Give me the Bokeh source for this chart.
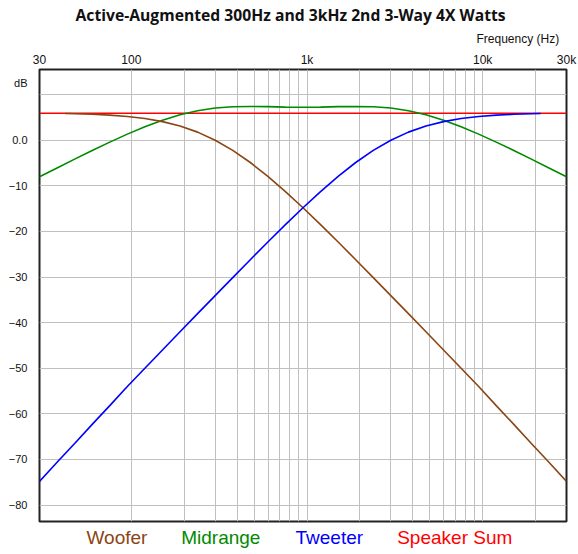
from bokeh.plotting import figure
from bokeh.models import FixedTicker, Label, Title
from bokeh.layouts import column
from bokeh.embed import file_html
from bokeh.resources import INLINE

# ---- data ----
freq = [30, 37.77, 47.55, 59.86, 75.36, 94.87, 119.4, 150.4, 189.3, 238.3, 300,
        377.7, 475.5, 598.6, 753.6, 948.7, 1194, 1504, 1893, 2383, 3000,
        3777, 4755, 5986, 7536, 9487, 11943, 15036, 18929, 23830, 30000]

woofer_f = [42] + freq[2:]
woofer_db = [5.85, 5.80, 5.68, 5.49, 5.19, 4.74, 4.07, 3.11, 1.77, 0.00,
             -2.23, -4.89, -7.93, -11.26, -14.81, -18.51, -22.32, -26.20, -30.12, -34.07,
             -38.03, -42.01, -46.00, -49.99, -53.99, -58.2, -62.3, -66.5, -70.6, -74.8]

mid_f = freq
mid_db = [-8.03, -6.08, -4.15, -2.25, -0.42, 1.33, 2.94, 4.37, 5.57, 6.47, 7.05,
          7.34, 7.40, 7.35, 7.26, 7.23, 7.26, 7.35, 7.40, 7.34, 7.05,
          6.47, 5.57, 4.37, 2.94, 1.33, -0.42, -2.25, -4.15, -6.08, -8.03]

tweeter_f = freq[:29] + [21400]
tweeter_db = [-74.8, -70.6, -66.5, -62.3, -58.2, -53.99, -49.99, -46.00, -42.01, -38.03,
              -34.07, -30.12, -26.20, -22.32, -18.51, -14.81, -11.26, -7.93, -4.89, -2.23,
              0.00, 1.77, 3.11, 4.07, 4.74, 5.19, 5.49, 5.68, 5.80, 5.85]

sum_f = [30, 30000]
sum_db = [5.9, 5.9]

x_ticks = [30, 100, 1000, 10000, 30000]
x_tick_labels = ["30", "100", "1k", "10k", "30k"]
x_grid = [100, 200, 300, 400, 500, 600, 700, 800, 900,
          1000, 2000, 3000, 4000, 5000, 6000, 7000, 8000, 9000, 10000, 20000]
y_ticks = [-80, -70, -60, -50, -40, -30, -20, -10, 0, 12.5]
y_tick_labels = {0: "0.0", 12.5: "dB"}
y_grid = [-80, -70, -60, -50, -40, -30, -20, -10, 0, 10]

title_text = "Active-Augmented 300Hz and 3kHz 2nd 3-Way 4X Watts"
x_title = "Frequency   (Hz)"
legend_names = ["Woofer", "Midrange", "Tweeter", "Speaker Sum"]

C_W, C_M, C_T, C_S = "#8b4513", "#008a00", "#0000ff", "#ff0000"

p = figure(width=578, height=527, x_axis_type="log", x_axis_location="above",
           x_range=(30, 30000), y_range=(-83.6, 15.5),
           output_backend="svg", toolbar_location=None, title=None,
           min_border_left=39, min_border_right=12, min_border_top=69, min_border_bottom=6)
p.background_fill_color = "white"
p.border_fill_color = "white"
p.outline_line_color = "#222222"
p.outline_line_width = 2

for ax in (p.xaxis[0], p.yaxis[0]):
    ax.axis_line_color = None
    ax.major_tick_line_color = None
    ax.minor_tick_line_color = None
    ax.major_tick_in = 0
    ax.major_tick_out = 0
    ax.minor_tick_in = 0
    ax.minor_tick_out = 0
    ax.major_label_text_font = "Liberation Sans"
    ax.major_label_text_color = "#111111"

p.xaxis.major_label_text_font_size = "12px"
p.yaxis.major_label_text_font_size = "11px"
p.xaxis.ticker = FixedTicker(ticks=x_ticks)
p.xaxis.major_label_overrides = {float(t): l for t, l in zip(x_ticks, x_tick_labels)}
p.xaxis.major_label_standoff = 3
p.yaxis.ticker = FixedTicker(ticks=y_ticks)
p.yaxis.major_label_overrides = y_tick_labels
p.yaxis.major_label_standoff = 12

p.xgrid.ticker = FixedTicker(ticks=x_grid)
p.ygrid.ticker = FixedTicker(ticks=y_grid)
for g in (p.xgrid[0], p.ygrid[0]):
    g.grid_line_color = "#c0c0c0"
    g.grid_line_width = 1

p.line(sum_f, sum_db, color=C_S, line_width=1.6)
p.line(mid_f, mid_db, color=C_M, line_width=1.6)
p.line(woofer_f, woofer_db, color=C_W, line_width=1.6)
p.line(tweeter_f, tweeter_db, color=C_T, line_width=1.6)

# stacked above the top axis: first the frequency caption, then the main title
p.add_layout(Title(text=x_title, align="left", offset=437, standoff=8,
                   text_font="Liberation Sans", text_font_style="normal",
                   text_font_size="12px", text_color="#111111"), "above")
p.add_layout(Title(text=title_text, align="left", offset=36, standoff=0,
                   text_font="Open Sans", text_font_style="bold",
                   text_font_size="15.7px", text_color="#111111"), "above")

# legend strip below the chart (its frame is aligned with the chart's frame)
leg = figure(width=578, height=27, x_range=(0, 1), y_range=(0, 1),
             output_backend="svg", toolbar_location=None, title=None,
             x_axis_location=None, y_axis_location=None,
             min_border_left=39, min_border_right=12, min_border_top=0, min_border_bottom=0)
leg.outline_line_color = None
leg.xgrid.visible = False
leg.ygrid.visible = False
leg_x = [47, 141.7, 256, 357.7]
for name, col, xx in zip(legend_names, [C_W, C_M, C_T, C_S], leg_x):
    leg.add_layout(Label(x=xx, y=17.2, x_units="screen", y_units="screen", text=name,
                         text_align="left", text_baseline="alphabetic",
                         text_font="Liberation Sans", text_font_size="19px", text_color=col))

layout = column(p, leg, spacing=0)
open("out.html", "w").write(file_html(layout, INLINE))
